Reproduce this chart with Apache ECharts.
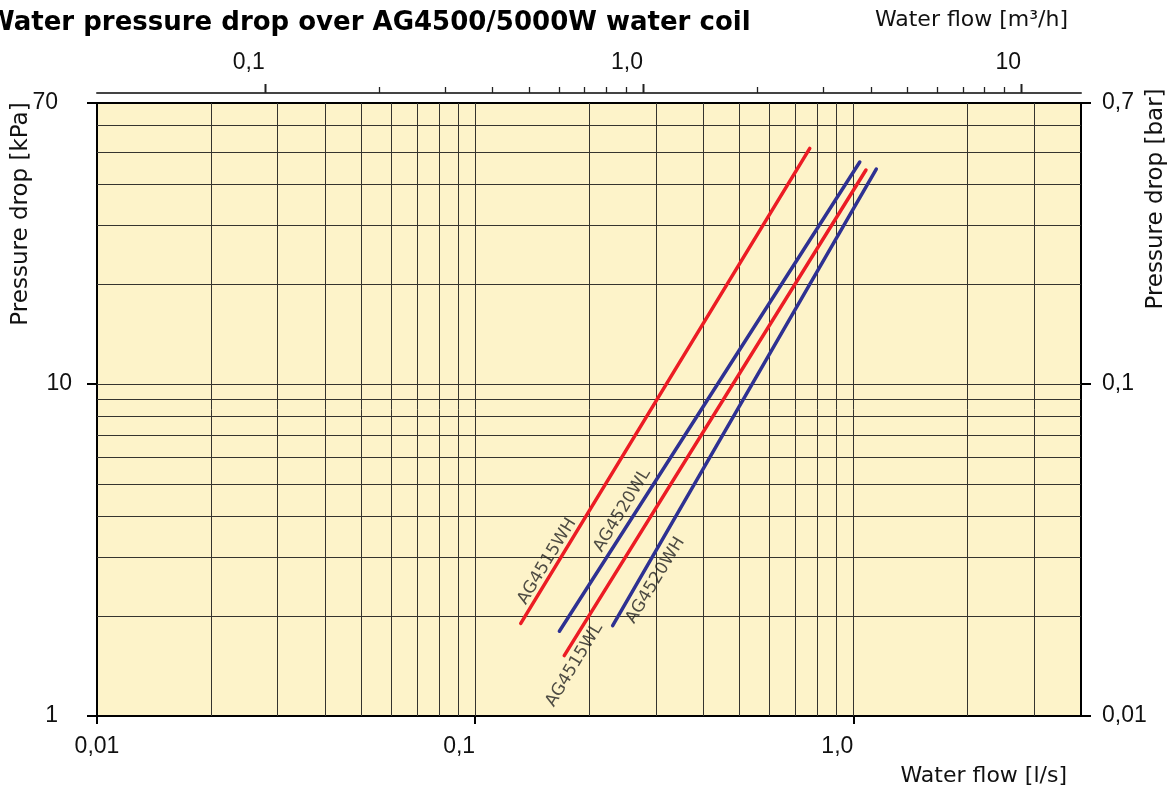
<!DOCTYPE html>
<html>
<head>
<meta charset="utf-8">
<title>Water pressure drop over AG4500/5000W water coil</title>
<script src="https://cdn.jsdelivr.net/npm/echarts@6/dist/echarts.min.js"></script>
<style>
  html, body { margin: 0; padding: 0; background: #fff; }
  #chart { width: 1175px; height: 791px; }
</style>
</head>
<body>
<div id="chart"></div>
<script>
// water flow, l/s (bottom axis)
var flowMin = 0.01, flowMax = 4;
var flowTicks = [0.01, 0.1, 1];
var flowTickLabels = ['0,01', '0,1', '1,0'];
var flowGrid = [0.02, 0.03, 0.04, 0.05, 0.06, 0.07, 0.08, 0.09, 0.1,
  0.2, 0.3, 0.4, 0.5, 0.6, 0.7, 0.8, 0.9, 1, 2, 3];

// water flow, m3/h (top axis)
var m3hMin = 0.036, m3hMax = 14.4;
var m3hTicks = [0.1, 1, 10];
var m3hTickLabels = ['0,1', '1,0', '10'];
var m3hMinorTicks = [0.2, 0.3, 0.4, 0.5, 0.6, 0.7, 0.8, 0.9, 2, 3, 4, 5, 6, 7, 8, 9];

// pressure drop, kPa (left) and bar (right)
var kpaMin = 1, kpaMax = 70;
var kpaTicks = [1, 10, 70];
var kpaTickLabels = ['1', '10', '70'];
var kpaGrid = [2, 3, 4, 5, 6, 7, 8, 9, 10, 20, 30, 40, 50, 60];
var barMin = 0.01, barMax = 0.7;
var barTicks = [0.01, 0.1, 0.7];
var barTickLabels = ['0,01', '0,1', '0,7'];

// coil curves [l/s, kPa]
var ag4515wh = [[0.132, 1.90], [0.767, 51.1]];
var ag4520wl = [[0.167, 1.80], [1.04, 46.5]];
var ag4515wl = [[0.172, 1.52], [1.08, 44.0]];
var ag4520wh = [[0.231, 1.87], [1.15, 44.3]];
var curveNames = ['AG4515WH', 'AG4520WL', 'AG4515WL', 'AG4520WH'];
var curveLabelAt = [[0.155, 2.92], [0.245, 4.16], [0.183, 1.425], [0.300, 2.56]];

var RED = '#ec1c24', BLUE = '#2e3192', GRIDC = '#35342e';

function tickFormatter(values, labels, rich) {
  return function (v) {
    for (var i = 0; i < values.length; i++) {
      if (Math.abs(Math.log10(v) - Math.log10(values[i])) < 1e-6) {
        return rich && rich[i] ? '{' + rich[i] + '|' + labels[i] + '}' : labels[i];
      }
    }
    return '';
  };
}

var labelFont = { fontFamily: 'Liberation Sans', fontSize: 23, color: '#111' };
var nameFont = { fontFamily: 'DejaVu Sans', fontSize: 22, color: '#111', fontWeight: 'normal' };

var myChart = echarts.init(document.getElementById('chart'));

function curve(name, data, color) {
  return {
    name: name, type: 'line', data: data, symbol: 'none', z: 3,
    lineStyle: { color: color, width: 3.5, cap: 'round' }
  };
}

myChart.setOption({
  animation: false,
  title: [
    {
      text: 'Water pressure drop over AG4500/5000W water coil',
      left: -14, top: 10, padding: 0,
      textStyle: { fontFamily: 'DejaVu Sans', fontWeight: 'bold', fontSize: 26, color: '#000' }
    },
    { text: 'Water flow [m³/h]', right: 107, top: 9, padding: 0, textStyle: nameFont },
    { text: 'Water flow [l/s]', right: 108, top: 765, padding: 0, textStyle: nameFont }
  ],
  graphic: [
    {
      type: 'text', x: 21, y: 214, rotation: Math.PI / 2,
      style: { text: 'Pressure drop [kPa]', fontFamily: 'DejaVu Sans', fontSize: 23, fill: '#111', align: 'center', verticalAlign: 'middle' }
    },
    {
      type: 'text', x: 1156, y: 199, rotation: Math.PI / 2,
      style: { text: 'Pressure drop [bar]', fontFamily: 'DejaVu Sans', fontSize: 23, fill: '#111', align: 'center', verticalAlign: 'middle' }
    }
  ],
  grid: {
    left: 97, right: 94, top: 103, bottom: 75,
    show: true, backgroundColor: '#fdf3c9', borderColor: '#000', borderWidth: 2,
    outerBoundsMode: 'none'
  },
  xAxis: [
    {
      type: 'log', min: flowMin, max: flowMax, position: 'bottom',
      axisLine: { show: false },
      axisTick: { show: true, length: 8, customValues: flowTicks, lineStyle: { color: '#000', width: 2 } },
      axisLabel: Object.assign({ margin: 19, align: 'right', alignMinLabel: 'center',
        formatter: tickFormatter(flowTicks, flowTickLabels) }, labelFont),
      splitLine: { show: false }
    },
    {
      type: 'log', min: m3hMin, max: m3hMax, position: 'top', offset: 10,
      axisLine: { show: true, onZero: false, lineStyle: { color: '#444', width: 2 } },
      axisTick: { show: false },
      axisLabel: Object.assign({ margin: 19, align: 'right',
        formatter: tickFormatter(m3hTicks, m3hTickLabels) }, labelFont),
      splitLine: { show: false }
    }
  ],
  yAxis: [
    {
      type: 'log', min: kpaMin, max: kpaMax, position: 'left',
      axisLine: { show: false },
      axisTick: { show: true, length: 10, lineStyle: { color: '#000', width: 2 } },
      axisLabel: Object.assign({ margin: 25,
        formatter: tickFormatter(kpaTicks, kpaTickLabels, ['s', null, 's']),
        rich: { s: { fontFamily: 'Liberation Sans', fontSize: 23, color: '#111', padding: [0, 14, 0, 0] } }
      }, labelFont),
      splitLine: { show: false }
    },
    {
      type: 'log', min: barMin, max: barMax, position: 'right',
      axisLine: { show: false },
      axisTick: { show: true, length: 10, lineStyle: { color: '#000', width: 2 } },
      axisLabel: Object.assign({ margin: 21,
        formatter: tickFormatter(barTicks, barTickLabels) }, labelFont),
      splitLine: { show: false }
    }
  ],
  series: [
    {
      // vertical grid lines
      type: 'custom', z: 1, silent: true,
      data: flowGrid.map(function (v) { return [v, kpaMin]; }),
      renderItem: function (params, api) {
        var a = api.coord([api.value(0), kpaMin]);
        var b = api.coord([api.value(0), kpaMax]);
        var x = Math.round(a[0]) + 0.5;
        return { type: 'line', shape: { x1: x, y1: a[1], x2: x, y2: b[1] },
          style: { stroke: GRIDC, lineWidth: 1 } };
      }
    },
    {
      // horizontal grid lines
      type: 'custom', z: 1, silent: true,
      data: kpaGrid.map(function (v) { return [flowMin, v]; }),
      renderItem: function (params, api) {
        var a = api.coord([flowMin, api.value(1)]);
        var b = api.coord([flowMax, api.value(1)]);
        var y = Math.round(a[1]) + 0.5;
        return { type: 'line', shape: { x1: a[0], y1: y, x2: b[0], y2: y },
          style: { stroke: GRIDC, lineWidth: 1 } };
      }
    },
    {
      // ticks of the m3/h axis, above its line
      type: 'custom', xAxisIndex: 1, yAxisIndex: 0, z: 2, silent: true,
      data: m3hTicks.map(function (v) { return [v, kpaMax, 1]; })
        .concat(m3hMinorTicks.map(function (v) { return [v, kpaMax, 0]; })),
      renderItem: function (params, api) {
        var p = api.coord([api.value(0), api.value(1)]);
        var len = api.value(2) ? 9 : 6;
        var x = Math.round(p[0]) + 0.5;
        return { type: 'line', shape: { x1: x, y1: p[1] - 10, x2: x, y2: p[1] - 10 - len },
          style: { stroke: '#222', lineWidth: api.value(2) ? 2 : 1.3 } };
      }
    },
    curve(curveNames[0], ag4515wh, RED),
    curve(curveNames[1], ag4520wl, BLUE),
    curve(curveNames[2], ag4515wl, RED),
    curve(curveNames[3], ag4520wh, BLUE),
    {
      type: 'scatter', z: 4, silent: true, symbolSize: 1,
      itemStyle: { color: 'transparent' },
      data: curveNames.map(function (n, i) { return { name: n, value: curveLabelAt[i] }; }),
      label: {
        show: true, position: 'inside', rotate: 58.7,
        formatter: function (p) { return p.name; },
        fontFamily: 'DejaVu Sans', fontSize: 17, color: '#222'
      }
    }
  ]
});
</script>
</body>
</html>
